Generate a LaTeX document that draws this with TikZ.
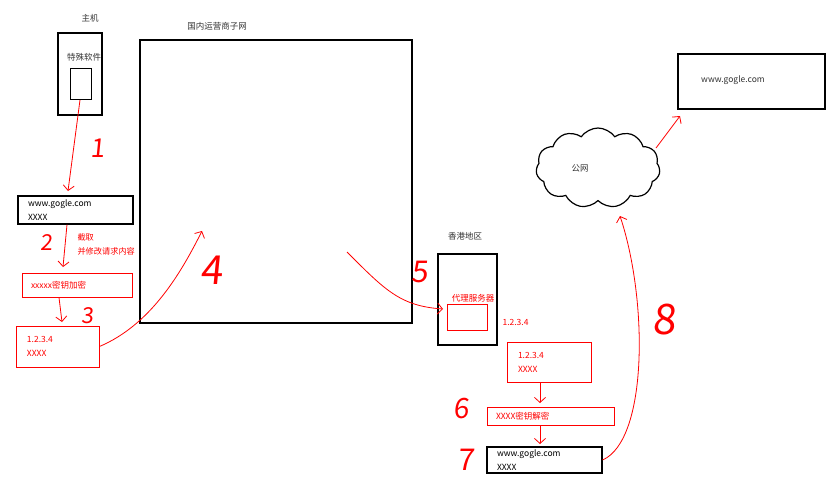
\documentclass[tikz,border=0pt]{standalone}
\usepackage{fontspec}
\setmainfont{Noto Sans CJK SC}
\usepackage{tikz}
\usetikzlibrary{arrows.meta}
\usetikzlibrary{shapes.symbols}

\tikzset{
    box/.style={draw, line width=1.2pt, inner sep=0pt},
    redbox/.style={draw=red, line width=1pt, inner sep=0pt},
    rows/.style={align=left, text width=#1, font=\fontsize{8.5}{14}\selectfont},
    txt/.style={font=\fontsize{8.5}{9}\selectfont, text=black!80},
    num/.style={text=red, font=\fontsize{#1}{#1}\selectfont\addfontfeatures{FakeSlant=0.1}},
    step arrow/.style={draw=red, line width=0.8pt, -{Straight Barb[length=5pt,width=11pt]}},
}

\begin{document}
\begin{tikzpicture}[x=1pt, y=-1pt]
    \useasboundingbox[fill=white] (0,0) rectangle (830,482);

    % host side
    \node[txt] (host-l) at (90,18) {主机};
    \node[box, minimum width=44pt, minimum height=82pt] (host) at (80,74) {};
    \node[txt] (soft-l) at (84,57) {特殊软件};
    \node[box, line width=1pt, minimum width=21pt, minimum height=31pt] (soft) at (80.5,83.5) {};

    \node[box, rows=95pt, minimum width=115pt, minimum height=28pt] (req) at (75.5,210)
        {www.gogle.com\\XXXX};
    \node[redbox, rows=92pt, text=red, minimum width=110pt, minimum height=24pt] (enc) at (77,285)
        {xxxxx密钥加密};
    \node[redbox, rows=61pt, text=red, minimum width=83pt, minimum height=41pt] (pkt) at (57.5,346.5)
        {1.2.3.4\\XXXX};
    \node[txt, text=red, align=left, anchor=west, font=\fontsize{8.2}{14}\selectfont] (cut-l) at (74,244)
        {截取\\并修改请求内容};

    % carrier network
    \node[txt] (isp-l) at (217,26) {国内运营商子网};
    \node[box, minimum width=272pt, minimum height=283pt] (isp) at (276,181.5) {};

    % hong kong
    \node[txt] (hk-l) at (465,236) {香港地区};
    \node[box, minimum width=59pt, minimum height=91pt] (hk) at (467.5,299.5) {};
    \node[txt, text=red] (proxy-l) at (473,298) {代理服务器};
    \node[redbox, minimum width=40pt, minimum height=26pt] (proxy) at (467,317) {};
    \node[txt, text=red, anchor=west] (proxy-ip) at (499,322) {1.2.3.4};

    \node[redbox, rows=62pt, text=red, minimum width=84pt, minimum height=40pt] (pkt2) at (549,362)
        {1.2.3.4\\XXXX};
    \node[redbox, rows=109pt, text=red, minimum width=127pt, minimum height=18pt] (dec) at (550.5,416)
        {XXXX密钥解密};
    \node[box, rows=95pt, minimum width=115pt, minimum height=26pt] (req2) at (544.5,460)
        {www.gogle.com\\XXXX};

    % public net
    \node[cloud, draw, line width=1.2pt, cloud puffs=11, cloud puff arc=110, aspect=1.6,
        minimum width=124pt, minimum height=80pt] (web) at (598,168) {};
    \node[txt] (web-l) at (580,168) {公网};
    \node[box, minimum width=147pt, minimum height=55pt] (google) at (751.5,81.5) {};
    \node[txt] (google-l) at (733,80) {www.gogle.com};

    % arrows
    \coordinate (c1) at (80,100);
    \coordinate (t4) at (202,231);
    \coordinate (s5) at (347,252);
    \coordinate (t5) at (443,309);
    \coordinate (t8) at (620,216);
    \coordinate (sg) at (656,148);
    \coordinate (tg) at (680,116);
    \draw[step arrow] (c1) -- (68,191);
    \draw[step arrow] (req.south -| 67,0) -- (63,267);
    \draw[step arrow] (enc.south -| 59,0) -- (62,322);
    \draw[step arrow] (pkt.east) .. controls (150,325) and (180,275) .. (t4);
    \draw[step arrow] (s5) .. controls (385,290) and (400,306) .. (t5);
    \draw[step arrow] (pkt2.south -| 540,0) -- (540,403);
    \draw[step arrow] (dec.south -| 540,0) -- (540,444);
    \draw[step arrow] (req2.east) .. controls (648,440) and (648,300) .. (t8);
    \draw[step arrow] (sg) -- (tg);

    % step numbers
    \node[num=26] (n1) at (98,148) {1};
    \node[num=22] (n2) at (47,243) {2};
    \node[num=22] (n3) at (88,316) {3};
    \node[num=40] (n4) at (212,270) {4};
    \node[num=30] (n5) at (420,272) {5};
    \node[num=28] (n6) at (461,409) {6};
    \node[num=30] (n7) at (466,460) {7};
    \node[num=42] (n8) at (664,320) {8};
\end{tikzpicture}
\end{document}
